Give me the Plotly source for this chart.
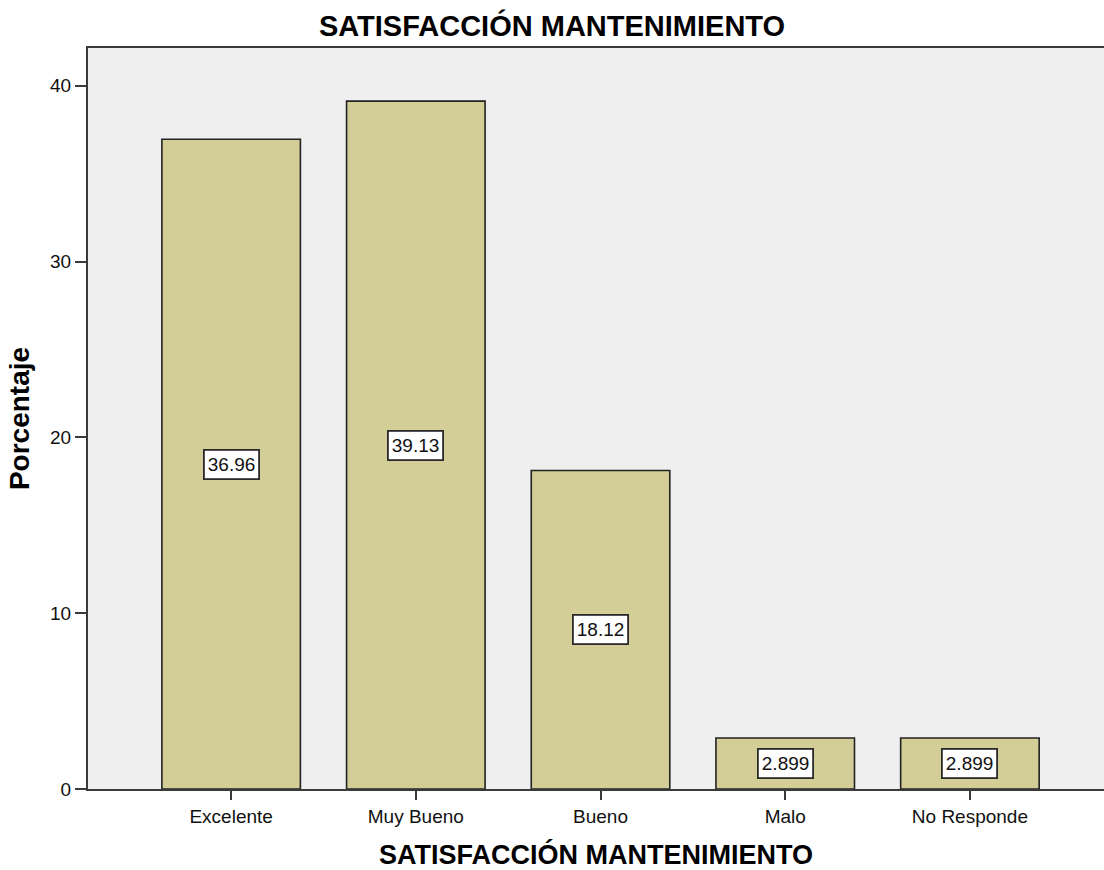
import plotly.graph_objects as go

categorias = ["Excelente", "Muy Bueno", "Bueno", "Malo", "No Responde"]
porcentajes = [36.96, 39.13, 18.12, 2.899, 2.899]
y_ticks = [0, 10, 20, 30, 40]

titulo = "SATISFACCIÓN MANTENIMIENTO"
fuente = "Liberation Sans, Arial, sans-serif"

fig = go.Figure()
fig.add_trace(go.Bar(
    x=categorias,
    y=porcentajes,
    width=0.75,
    marker=dict(color="#D3CE98", line=dict(color="#222", width=1.6)),
    hoverinfo="x+y",
))

# etiquetas con recuadro blanco a media altura de cada barra
for cat, val in zip(categorias, porcentajes):
    fig.add_annotation(
        x=cat, y=val / 2, text=f"{val:.4g}", showarrow=False,
        font=dict(family=fuente, size=19, color="#111"),
        bgcolor="white", bordercolor="#2a2a2a", borderwidth=1.8, borderpad=3,
    )

fig.update_layout(
    width=1104, height=870,
    margin=dict(l=88, r=0, t=48, b=79),
    paper_bgcolor="white",
    plot_bgcolor="#EFEFEF",
    showlegend=False,
    font=dict(family=fuente, size=19, color="#111"),
    title=dict(text="<b>" + titulo + "</b>", x=0.5, xanchor="center",
               y=1 - 26 / 870, yanchor="middle",
               font=dict(size=29, color="#000")),
    xaxis=dict(
        range=[-0.775, 4.726],
        showline=True, linecolor="#3a3a3a", linewidth=2, mirror=True,
        ticks="outside", ticklen=9, tickwidth=2, tickcolor="#3a3a3a",
        showgrid=False, zeroline=False,
        title=dict(text="<b>" + titulo + "</b>", standoff=24,
                   font=dict(size=27, color="#000")),
    ),
    yaxis=dict(
        range=[0, 42.15],
        tickvals=y_ticks,
        showline=True, linecolor="#3a3a3a", linewidth=2,
        ticks="outside", ticklen=11, tickwidth=2, tickcolor="#3a3a3a",
        showgrid=False, zeroline=False,
        title=dict(text="<b>Porcentaje</b>", standoff=12,
                   font=dict(size=28, color="#000")),
    ),
)

fig.write_html("out.html", config={"displayModeBar": False},
               post_script="document.body.style.margin='0';")
